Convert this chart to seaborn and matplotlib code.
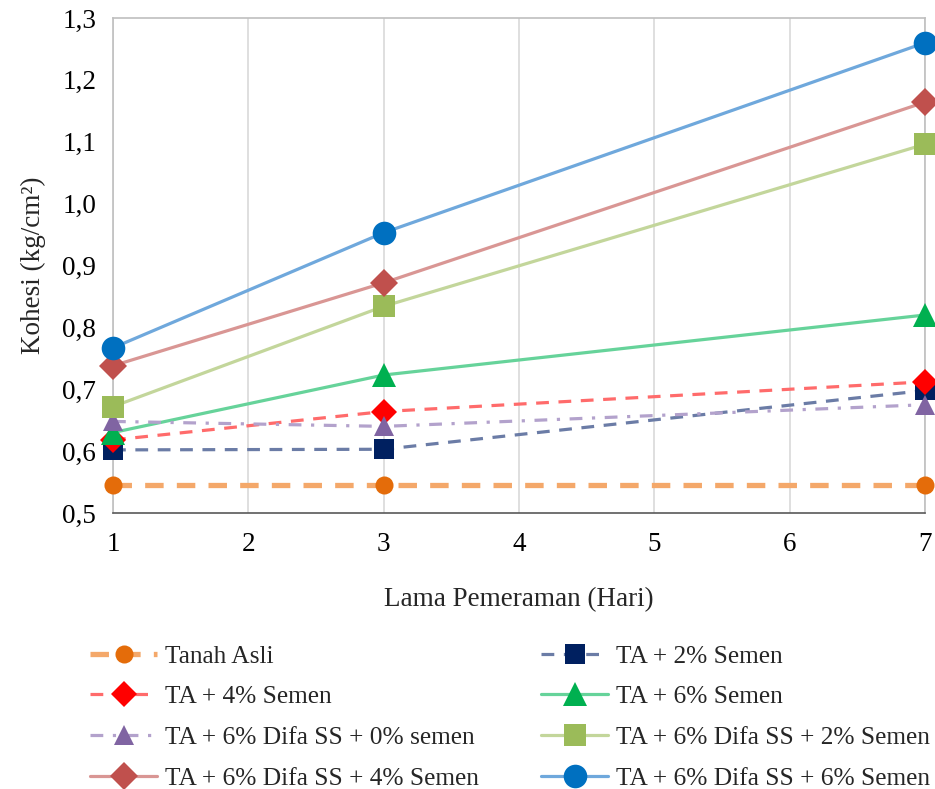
import matplotlib
matplotlib.use("Agg")
import matplotlib.pyplot as plt
from matplotlib.ticker import FuncFormatter, MultipleLocator
import seaborn as sns
import pandas as pd

# Curing time (days)
days = [1, 3, 7]

# Cohesion values (kg/cm2) per mixture
tanah_asli = [0.545, 0.545, 0.545]
ta_2_semen = [0.602, 0.603, 0.698]
ta_4_semen = [0.618, 0.664, 0.712]
ta_6_semen = [0.630, 0.723, 0.820]
difa_0_semen = [0.648, 0.640, 0.675]
difa_2_semen = [0.672, 0.834, 1.096]
difa_4_semen = [0.738, 0.872, 1.164]
difa_6_semen = [0.767, 0.953, 1.260]

labels = [
    "Tanah Asli",
    "TA + 2% Semen",
    "TA + 4% Semen",
    "TA + 6% Semen",
    "TA + 6% Difa SS + 0% semen",
    "TA + 6% Difa SS + 2% Semen",
    "TA + 6% Difa SS + 4% Semen",
    "TA + 6% Difa SS + 6% Semen",
]
values = [tanah_asli, ta_2_semen, ta_4_semen, ta_6_semen,
          difa_0_semen, difa_2_semen, difa_4_semen, difa_6_semen]

# line colour, marker colour, marker, marker size, linestyle, linewidth
styles = [
    ("#F4A86A", "#E46C0A", "o", 13, (0, (3.5, 2.5)), 3.8),
    ("#6B7CA6", "#002060", "s", 15, (0, (4, 3)), 2.3),
    ("#FF6B6B", "#FF0000", "D", 13, (0, (4, 3)), 2.3),
    ("#66D39A", "#00B050", "^", 17, "-", 2.3),
    ("#B3A2CC", "#8064A2", "^", 14, (0, (4, 3, 1, 3)), 2.3),
    ("#C3D69B", "#9BBB59", "s", 16, "-", 2.3),
    ("#D99694", "#C0504D", "D", 14, "-", 2.3),
    ("#6FA8DC", "#0070C0", "o", 17, "-", 2.3),
]

df = pd.DataFrame({
    "Hari": days * len(labels),
    "Kohesi": [v for vals in values for v in vals],
    "Campuran": [lab for lab in labels for _ in days],
})

sns.set_theme(style="white")
plt.rcParams["font.family"] = ["Liberation Serif", "DejaVu Serif"]

fig = plt.figure(figsize=(9.35, 7.89), dpi=100)
ax = fig.add_axes([113 / 935, 1 - 513 / 789, (925 - 113) / 935, (513 - 18) / 789])

handles = {}
for lab, (lc, mc, mk, ms, ls, lw) in zip(labels, styles):
    sub = df[df["Campuran"] == lab]
    sns.lineplot(data=sub, x="Hari", y="Kohesi", ax=ax, color=lc,
                 linestyle=ls, linewidth=lw, marker=mk, markersize=ms,
                 markerfacecolor=mc, markeredgecolor=mc, markeredgewidth=0,
                 clip_on=False, legend=False, zorder=3)
    handles[lab] = ax.lines[-1]

ax.set_xlim(1, 7)
ax.set_ylim(0.5, 1.3)
ax.xaxis.set_major_locator(MultipleLocator(1))
ax.yaxis.set_major_locator(MultipleLocator(0.1))
ax.yaxis.set_major_formatter(FuncFormatter(lambda v, p: f"{v:.1f}".replace(".", ",")))
ax.xaxis.set_major_formatter(FuncFormatter(lambda v, p: f"{int(round(v))}"))
ax.tick_params(axis="both", labelsize=19.5, length=0, colors="#000000")
ax.tick_params(axis="x", pad=14)
ax.tick_params(axis="y", pad=12)
ax.grid(axis="x", color="#D9D9D9", linewidth=1.2)
ax.grid(axis="y", visible=False)
for side in ["top", "right", "left"]:
    ax.spines[side].set_color("#BFBFBF")
    ax.spines[side].set_linewidth(1.2)
ax.spines["bottom"].set_color("#595959")
ax.spines["bottom"].set_linewidth(1.2)

ax.set_xlabel("Lama Pemeraman (Hari)", fontsize=19.5, labelpad=21)
ax.set_ylabel("Kohesi (kg/cm²)", fontsize=19.5, labelpad=12)

order = [labels[0], labels[2], labels[4], labels[6],
         labels[1], labels[3], labels[5], labels[7]]
fig.legend([handles[l] for l in order], order, loc="lower left",
           bbox_to_anchor=(75 / 935, -0.02), ncol=2, frameon=False,
           fontsize=18.3, handlelength=2.64, columnspacing=2.45,
           labelspacing=0.7, handletextpad=0.3, borderaxespad=0.2)

fig.savefig("out.png", dpi=100)
